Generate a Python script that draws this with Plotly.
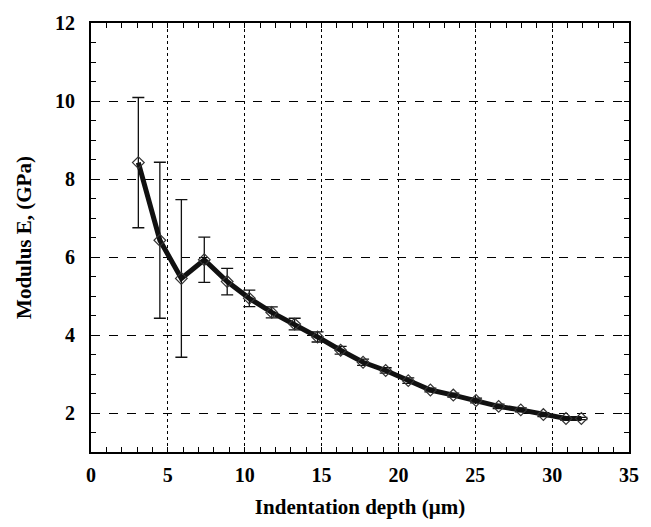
import plotly.graph_objects as go

depth = [3.08, 4.48, 5.88, 7.37, 8.86, 10.3, 11.76, 13.25, 14.74, 16.24, 17.7,
         19.17, 20.64, 22.08, 23.57, 25.05, 26.52, 27.96, 29.43, 30.9, 31.9]
modulus = [8.42, 6.43, 5.45, 5.93, 5.37, 4.94, 4.58, 4.28, 3.95, 3.61, 3.30,
           3.09, 2.83, 2.59, 2.46, 2.32, 2.17, 2.08, 1.96, 1.86, 1.86]
err = [1.67, 2.0, 2.02, 0.58, 0.34, 0.21, 0.14, 0.15, 0.13, 0.10, 0.08,
       0.07, 0.07, 0.05, 0.05, 0.06, 0.06, 0.05, 0.05, 0.04, 0.03]

x_ticks = [0, 5, 10, 15, 20, 25, 30, 35]
y_ticks = [2, 4, 6, 8, 10, 12]

fig = go.Figure()
# invisible helper trace so the top/right tick axes are drawn
fig.add_trace(go.Scatter(
    x=depth, y=modulus, xaxis="x2", yaxis="y2", mode="markers",
    marker=dict(opacity=0), hoverinfo="skip", showlegend=False,
))
fig.add_trace(go.Scatter(
    x=depth, y=modulus, mode="lines+markers",
    line=dict(color="#111111", width=5),
    marker=dict(symbol="diamond-open", size=9, color="#333333", line=dict(width=1.2, color="#333333")),
    error_y=dict(type="data", array=err, visible=True, color="#111111", thickness=1.3, width=6),
    showlegend=False,
))

font_family = "Liberation Serif"
common_x = dict(range=[0, 35], tickvals=x_ticks, ticks="inside", ticklen=5, tickcolor="black",
                showline=True, linecolor="black", linewidth=2, zeroline=False,
                minor=dict(dtick=1, ticks="inside", ticklen=5, tickcolor="black", showgrid=False))
common_y = dict(range=[1, 12], tickvals=y_ticks, ticks="inside", ticklen=5, tickcolor="black",
                showline=True, linecolor="black", linewidth=2, zeroline=False,
                minor=dict(dtick=0.5, ticks="inside", ticklen=5, tickcolor="black", showgrid=False))

fig.update_layout(
    width=651, height=527,
    margin=dict(l=91, r=20, t=13, b=70),
    paper_bgcolor="white", plot_bgcolor="white",
    font=dict(family=font_family, color="black"),
    xaxis=dict(
        **common_x, mirror=True,
        ticktext=[str(v) for v in x_ticks],
        showgrid=True, gridcolor="black", gridwidth=1, griddash="dot",
        tickfont=dict(size=20, family=font_family, weight="bold"),
        ticklabelstandoff=4,
        title=dict(text="<b>Indentation depth (μm)</b>", font=dict(size=21, family=font_family), standoff=14),
    ),
    yaxis=dict(
        **common_y, mirror=True,
        ticktext=[str(v) for v in y_ticks],
        showgrid=True, gridcolor="black", gridwidth=1, griddash="dash",
        tickfont=dict(size=20, family=font_family, weight="bold"),
        ticklabelstandoff=10,
        title=dict(text="<b>Modulus E, (GPa)</b>", font=dict(size=21, family=font_family), standoff=18),
    ),
    xaxis2=dict(**common_x, overlaying="x", side="top", showgrid=False, showticklabels=False),
    yaxis2=dict(**common_y, overlaying="y", side="right", showgrid=False, showticklabels=False),
)

fig.write_html("out.html")
